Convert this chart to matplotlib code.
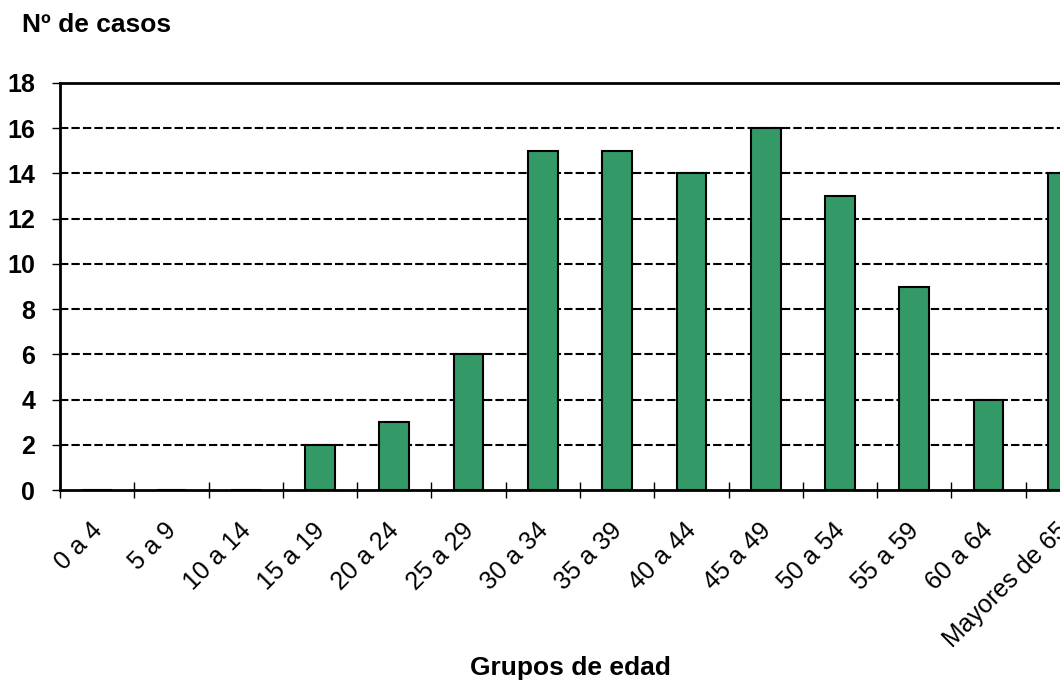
import matplotlib
matplotlib.use('Agg')
import matplotlib.pyplot as plt
import numpy as np

plt.rcParams['font.family'] = ['Liberation Sans', 'DejaVu Sans']

# datos: casos por grupo de edad
grupos = ['0 a 4', '5 a 9', '10 a 14', '15 a 19', '20 a 24', '25 a 29', '30 a 34',
          '35 a 39', '40 a 44', '45 a 49', '50 a 54', '55 a 59', '60 a 64', 'Mayores de 65']
casos = [0, 0, 0, 2, 3, 6, 15, 15, 14, 16, 13, 9, 4, 14]
yticks = [0, 2, 4, 6, 8, 10, 12, 14, 16, 18]

fig = plt.figure(figsize=(10.6, 6.8), dpi=100)
# el eje se sale por la derecha, como en la imagen original (recortada)
ax = fig.add_axes([60 / 1060, 190 / 680, 1040 / 1060, 407 / 680])

x = np.arange(len(grupos))
ax.bar(x, casos, width=0.4, color='#339966', edgecolor='black', linewidth=1.5, zorder=3)

ax.set_xlim(-0.5, len(grupos) - 0.5)
ax.set_ylim(0, 18)
ax.set_yticks(yticks)
ax.set_yticklabels([str(v) for v in yticks], fontsize=18, fontweight='bold')

for v in yticks[1:-1]:
    ax.axhline(v, color='black', linewidth=1.5, linestyle=(0, (4, 1.5)), zorder=1)

# ticks en los límites entre categorías
ax.set_xticks(np.arange(len(grupos) + 1) - 0.5)
ax.set_xticklabels([])
ax.tick_params(axis='x', direction='inout', length=12, width=1)
ax.tick_params(axis='y', direction='out', length=6, width=1, pad=12)
for i, g in enumerate(grupos):
    ax.text(i - 0.1, -1.25, g, rotation=45, ha='right', va='top', fontsize=18,
            rotation_mode='anchor', transform=ax.transData)

for s in ['left', 'bottom', 'top']:
    ax.spines[s].set_linewidth(2)
ax.spines['right'].set_visible(False)

fig.text(22 / 1060, 1 - 25 / 680, 'Nº de casos', fontsize=19, fontweight='bold',
         ha='left', va='center')
fig.text(570 / 1060, 1 - 668 / 680, 'Grupos de edad', fontsize=19, fontweight='bold',
         ha='center', va='center')

fig.savefig('out.png', dpi=100)
